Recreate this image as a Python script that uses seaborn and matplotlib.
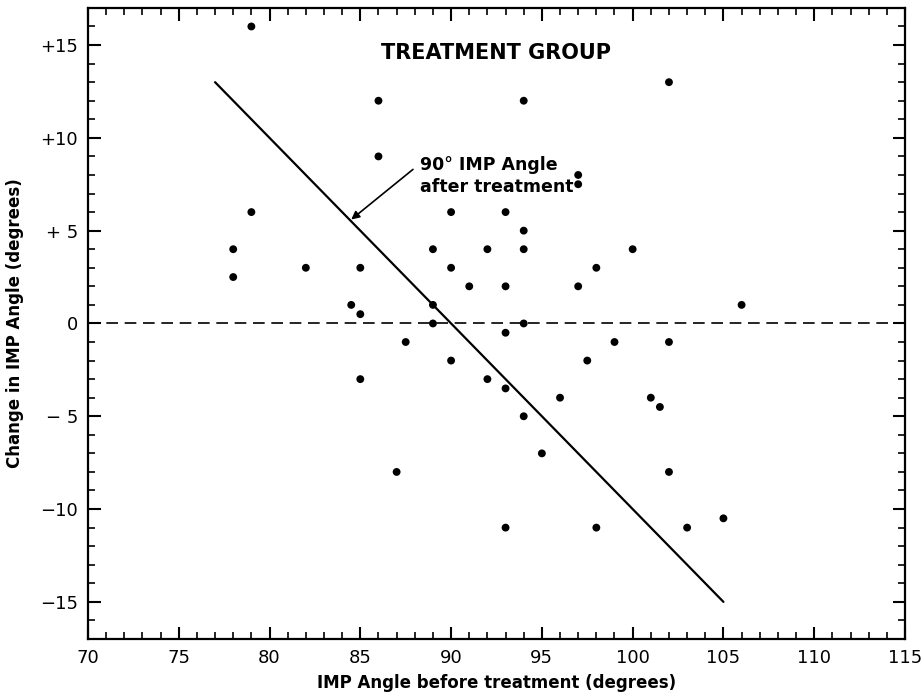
import numpy as np
import pandas as pd
import matplotlib
matplotlib.use("Agg")
import matplotlib.pyplot as plt
from matplotlib.ticker import MultipleLocator
import seaborn as sns

# IMP angle before treatment (x) and change in IMP angle (y)
angle_before = [79, 86, 86, 79, 78, 78, 82, 85, 84.5, 85,
                90, 89, 92, 90, 91, 89, 89, 87.5, 90, 85,
                92, 87, 94, 102, 97, 97, 93, 94, 94, 100,
                98, 93, 97, 106, 94, 93, 99, 102, 97.5, 93,
                96, 101, 101.5, 94, 95, 102, 93, 98, 103, 105]
angle_change = [16, 12, 9, 6, 4, 2.5, 3, 3, 1, 0.5,
                6, 4, 4, 3, 2, 1, 0, -1, -2, -3,
                -3, -8, 12, 13, 8, 7.5, 6, 5, 4, 4,
                3, 2, 2, 1, 0, -0.5, -1, -1, -2, -3.5,
                -4, -4, -4.5, -5, -7, -8, -11, -11, -11, -10.5]

# 90 degree IMP angle after treatment (before + change = 90)
line_before = [77, 105]
line_change = [13, -15]

x_ticks = [70, 75, 80, 85, 90, 95, 100, 105, 110, 115]
y_ticks = [15, 10, 5, 0, -5, -10, -15]
y_tick_labels = ["+15", "+10", "+ 5", "0", "\u2212 5", "\u221210", "\u221215"]

df = pd.DataFrame({"before": angle_before, "change": angle_change})
line_df = pd.DataFrame({"before": line_before, "change": line_change})

sns.set_style("ticks")
plt.rcParams["font.family"] = ["DejaVu Sans"]
plt.rcParams.update({"text.color": "black", "axes.labelcolor": "black",
                     "xtick.color": "black", "ytick.color": "black"})

fig = plt.figure(figsize=(9.23, 6.95), dpi=100)
ax = fig.add_axes([0.0953, 0.0806, 0.8852, 0.908])

sns.scatterplot(data=df, x="before", y="change", color="black", s=32,
                edgecolor="none", ax=ax, zorder=3)
sns.lineplot(data=line_df, x="before", y="change", color="black", lw=1.6,
             ax=ax, zorder=2)
ax.axhline(0, color="black", lw=1.2, ls=(0, (7, 4)), zorder=1)

ax.set_xlim(70, 115)
ax.set_ylim(-17, 17)
ax.set_xticks(x_ticks)
ax.set_yticks(y_ticks)
ax.set_yticklabels(y_tick_labels)
ax.xaxis.set_minor_locator(MultipleLocator(1))
ax.yaxis.set_minor_locator(MultipleLocator(1))
ax.tick_params(which="both", direction="in", top=True, right=True,
               color="black", labelcolor="black", labelsize=13, pad=7)
ax.tick_params(which="major", length=9, width=1.5)
ax.tick_params(which="minor", length=5, width=1.2)
for sp in ax.spines.values():
    sp.set_visible(True)
    sp.set_linewidth(1.6)
    sp.set_color("black")

ax.set_xlabel("IMP Angle before treatment (degrees)", fontsize=12,
              fontweight="bold", labelpad=5)
ax.set_ylabel("Change in IMP Angle (degrees)", fontsize=12,
              fontweight="bold", labelpad=12)

ax.text(92.5, 14.55, "TREATMENT GROUP", fontsize=15, fontweight="bold",
        ha="center", va="center", color="black")
ax.text(88.3, 7.95, "90\u00b0 IMP Angle\nafter treatment", fontsize=12.5,
        fontweight="bold", ha="left", va="center", linespacing=1.25,
        color="black")
ax.annotate("", xy=(84.5, 5.6), xytext=(87.9, 8.3),
            arrowprops=dict(arrowstyle="-|>", color="black", lw=1.2,
                            shrinkA=0, shrinkB=0, mutation_scale=12))

fig.savefig("out.png", dpi=100)
